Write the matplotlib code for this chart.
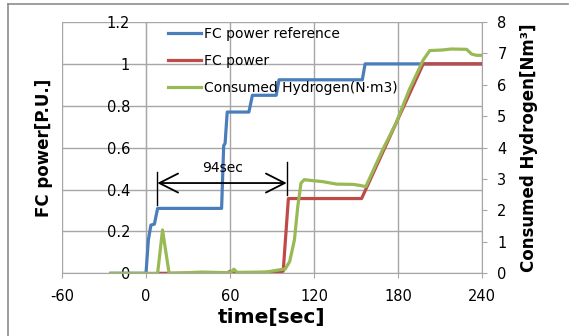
import matplotlib

matplotlib.use("Agg")

import matplotlib.pyplot as plt
from matplotlib.lines import Line2D

plt.rcParams["axes.unicode_minus"] = False

# FC power reference [P.U.]
ref_t = [-25, 0, 1.7, 3.5, 6, 8.3, 54, 55.5, 56.5, 58, 73.5, 76, 93, 95, 154.5, 156.5, 240]
ref_p = [0, 0, 0.16, 0.23, 0.235, 0.31, 0.31, 0.61, 0.62, 0.77, 0.77, 0.85, 0.85, 0.924, 0.924, 1.0, 1.0]

# FC power [P.U.]
fc_t = [10, 58, 60, 62, 90, 98, 101.7, 154, 198, 240]
fc_p = [0, 0, 0.01, 0, 0.005, 0.01, 0.357, 0.357, 1.0, 1.0]

# Consumed hydrogen [Nm3]
h2_t = [-25, 8.3, 11.8, 16.5, 30, 40, 58, 61, 62.8, 65, 85, 88.6, 98, 99.3, 102.6, 106,
        108.4, 110.7, 113, 119, 126, 136, 148, 152.5, 157, 169, 178.6, 188, 198, 202.7,
        212, 218, 229, 232.6, 236, 240]
h2_v = [0, 0, 1.38, 0, 0.02, 0.04, 0.02, 0.05, 0.13, 0.03, 0.04, 0.06, 0.13, 0.13, 0.37, 1.06,
        2.12, 2.87, 2.98, 2.95, 2.92, 2.84, 2.83, 2.8, 2.76, 3.93, 4.78, 5.84, 6.79, 7.09,
        7.11, 7.14, 7.13, 6.98, 6.94, 6.94]

grid_c = "#a6a6a6"

fig = plt.figure(figsize=(5.77, 3.36), dpi=100)
ax = fig.add_axes([62 / 577, 1 - 273.3 / 336, 420 / 577, 251.3 / 336])
ax2 = ax.twinx()

ax.plot(ref_t, ref_p, color="#4a7ebb", lw=2.3, zorder=3)
ax.plot(fc_t, fc_p, color="#be4b48", lw=2.3, zorder=4)
ax2.plot(h2_t, h2_v, color="#98b954", lw=2.3)

ax.set_xlim(-60, 240)
ax.set_ylim(0, 1.2)
ax2.set_ylim(0, 8)
ax.set_xticks(range(-60, 241, 60))
ax.set_yticks([0, 0.2, 0.4, 0.6, 0.8, 1, 1.2])
ax.set_yticklabels(["0", "0.2", "0.4", "0.6", "0.8", "1", "1.2"])
ax2.set_yticks(range(0, 9))
ax.grid(True, color=grid_c, lw=1)
ax.set_axisbelow(True)

ax.spines["top"].set_visible(False)
ax2.spines["top"].set_visible(False)
ax.spines["left"].set_position(("data", 0))
ax.spines["left"].set_color(grid_c)
ax.spines["bottom"].set_color(grid_c)
ax2.spines["right"].set_color(grid_c)
ax2.spines["left"].set_visible(False)
ax2.spines["bottom"].set_visible(False)
ax.spines["right"].set_visible(False)

ax.tick_params(axis="y", length=0, pad=11.5, labelsize=10.5)
ax.tick_params(axis="x", length=3.5, color=grid_c, pad=8, labelsize=10.5)
ax2.tick_params(axis="y", length=3.5, color=grid_c, pad=7.5, labelsize=10.5)

ax.set_xlabel("time[sec]", fontsize=14.5, fontweight="bold", labelpad=3)
ax.set_ylabel("FC power[P.U.]", fontsize=12, fontweight="bold")
ax.yaxis.set_label_coords(-0.021, 0.5)
ax2.set_ylabel("Consumed Hydrogen[Nm\u00b3]", fontsize=12, fontweight="bold", labelpad=9.5)

# 94 sec annotation
ax.annotate("", xy=(8.1, 0.431), xytext=(100.5, 0.431),
            arrowprops=dict(arrowstyle="<->,head_length=0.75,head_width=0.38", color="black",
                            lw=1.3, mutation_scale=18, shrinkA=0, shrinkB=0))
ax.plot([8.1, 8.1], [0.325, 0.484], color="black", lw=1)
ax.plot([100.5, 100.5], [0.373, 0.531], color="black", lw=1)
ax.text(55, 0.505, "94sec", ha="center", va="center", fontsize=10)

handles = [Line2D([], [], color="#4a7ebb", lw=2.3),
           Line2D([], [], color="#be4b48", lw=2.3),
           Line2D([], [], color="#98b954", lw=2.3)]
labels = ["FC power reference", "FC power", "Consumed Hydrogen(N\u00b7m3)"]
ax2.legend(handles, labels, loc="upper left", bbox_to_anchor=(0.24, 1.0), frameon=False,
           fontsize=10, handlelength=2.4, handletextpad=0.2, labelspacing=0.95,
           borderpad=0.35, borderaxespad=0)

# outer chart frame (left and top edges visible)
fig.add_artist(Line2D([7.5 / 577, 7.5 / 577], [0, 1 - 3.5 / 336], color="#8c8c8c", lw=1.2,
                      transform=fig.transFigure))
fig.add_artist(Line2D([7.5 / 577, 568 / 577], [1 - 3.5 / 336, 1 - 3.5 / 336], color="#8c8c8c",
                      lw=1.2, transform=fig.transFigure))

fig.savefig("out.png", dpi=100)
